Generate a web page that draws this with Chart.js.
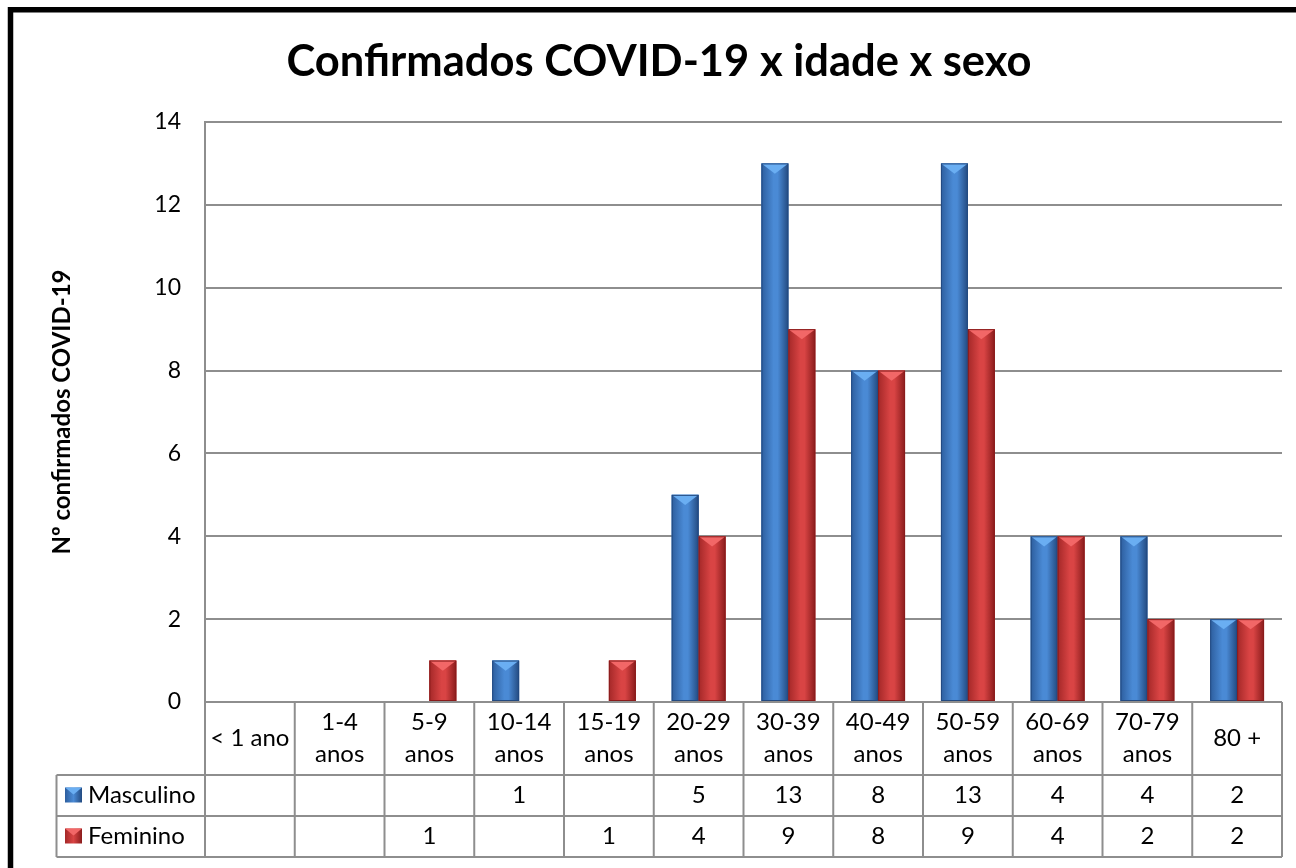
<!DOCTYPE html>
<html>
<head>
<meta charset="utf-8">
<title>Confirmados COVID-19 x idade x sexo</title>
<script src="https://cdn.jsdelivr.net/npm/chart.js@4.4.0/dist/chart.umd.min.js"></script>
<style>
  html, body { margin: 0; padding: 0; background: #fff; }
  #wrap { width: 1296px; height: 868px; position: relative; }
</style>
</head>
<body>
<div id="wrap"><canvas id="covidChart" width="1296" height="868"></canvas></div>
<script>
// Chart data
const ageGroups = [
  ['< 1 ano'], ['1-4', 'anos'], ['5-9', 'anos'], ['10-14', 'anos'],
  ['15-19', 'anos'], ['20-29', 'anos'], ['30-39', 'anos'], ['40-49', 'anos'],
  ['50-59', 'anos'], ['60-69', 'anos'], ['70-79', 'anos'], ['80 +']
];
const masculino = [null, null, null, 1, null, 5, 13, 8, 13, 4, 4, 2];
const feminino  = [null, null, 1, null, 1, 4, 9, 8, 9, 4, 2, 2];
const seriesNames = ['Masculino', 'Feminino'];
const yTicks = [0, 2, 4, 6, 8, 10, 12, 14];

const chartTitle = 'Confirmados COVID-19 x idade x sexo';
const yTitle = 'Nº confirmados COVID-19';

const FONT = 'Lato, "Open Sans", sans-serif';
const GRID = '#8e8e8e';

// bar shading: [left edge, middle, right edge, top triangle]
const shades = [
  ['#2d5e9e', '#4a8ad5', '#234a80', '#6aaef2'],
  ['#a42828', '#d94444', '#8a1c1c', '#f26767']
];

// white background, black frame and the big title
const frameAndTitle = {
  id: 'frameAndTitle',
  beforeDraw(chart) {
    const ctx = chart.ctx;
    ctx.save();
    ctx.fillStyle = '#fff';
    ctx.fillRect(0, 0, chart.width, chart.height);
    ctx.strokeStyle = '#000';
    ctx.lineWidth = 5.5;
    ctx.beginPath();
    ctx.moveTo(10.5, chart.height);
    ctx.lineTo(10.5, 9.8);
    ctx.lineTo(chart.width, 9.8);
    ctx.stroke();
    ctx.fillStyle = '#000';
    ctx.font = 'bold 43.5px ' + FONT;
    ctx.textAlign = 'center';
    ctx.textBaseline = 'alphabetic';
    ctx.fillText(chartTitle, 659, 76);
    ctx.restore();
  }
};

// Excel-like bevel on each bar, using the bar elements' geometry
const bevelBars = {
  id: 'bevelBars',
  afterDatasetsDraw(chart) {
    const ctx = chart.ctx;
    chart.data.datasets.forEach((ds, di) => {
      const meta = chart.getDatasetMeta(di);
      const c = shades[di];
      meta.data.forEach((bar, i) => {
        if (ds.data[i] === null) return;
        const p = bar.getProps(['x', 'y', 'base', 'width'], true);
        const left = p.x - p.width / 2;
        const right = p.x + p.width / 2;
        const g = ctx.createLinearGradient(left, 0, right, 0);
        g.addColorStop(0, c[0]);
        g.addColorStop(0.45, c[1]);
        g.addColorStop(0.6, c[1]);
        g.addColorStop(1, c[2]);
        ctx.save();
        ctx.fillStyle = g;
        ctx.fillRect(left, p.y, p.width, p.base - p.y);
        const h = Math.min(p.width * 0.38, p.base - p.y);
        ctx.fillStyle = c[3];
        ctx.beginPath();
        ctx.moveTo(left, p.y);
        ctx.lineTo(right, p.y);
        ctx.lineTo(p.x, p.y + h);
        ctx.closePath();
        ctx.fill();
        ctx.strokeStyle = c[2];
        ctx.lineWidth = 1;
        ctx.strokeRect(left + 0.5, p.y + 0.5, p.width - 1, p.base - p.y - 1);
        ctx.restore();
      });
    });
  }
};

// data table under the plot (category labels + values + legend keys)
const dataTable = {
  id: 'dataTable',
  afterDraw(chart) {
    const ctx = chart.ctx;
    const area = chart.chartArea;
    const xs = chart.scales.x;
    const n = ageGroups.length;
    const colW = (area.right - area.left) / n;
    const top = area.bottom;
    const rows = [top + 73, top + 114, top + 155];
    const legendLeft = 56.5;
    const rowsData = [masculino, feminino];

    ctx.save();
    ctx.strokeStyle = GRID;
    ctx.lineWidth = 2;
    ctx.beginPath();
    // vertical lines
    for (let i = 0; i <= n; i++) {
      const x = area.left + i * colW;
      ctx.moveTo(x, top);
      ctx.lineTo(x, rows[2]);
    }
    ctx.moveTo(legendLeft, rows[0]);
    ctx.lineTo(legendLeft, rows[2]);
    // horizontal lines
    rows.forEach(y => {
      ctx.moveTo(legendLeft, y);
      ctx.lineTo(area.right, y);
    });
    ctx.stroke();

    ctx.fillStyle = '#000';
    ctx.font = '24px ' + FONT;
    ctx.textAlign = 'center';
    ctx.textBaseline = 'middle';
    ageGroups.forEach((lab, i) => {
      const cx = xs.getPixelForValue(i);
      if (lab.length === 1) {
        ctx.fillText(lab[0], cx, top + 36);
      } else {
        ctx.fillText(lab[0], cx, top + 20);
        ctx.fillText(lab[1], cx, top + 52);
      }
    });

    rowsData.forEach((vals, r) => {
      const cy = (rows[r] + rows[r + 1 < rows.length ? r + 1 : r]) / 2;
      vals.forEach((v, i) => {
        if (v === null) return;
        ctx.fillText(String(v), xs.getPixelForValue(i), cy);
      });
      // legend key
      const c = shades[r];
      const g = ctx.createLinearGradient(65, 0, 82, 0);
      g.addColorStop(0, c[0]);
      g.addColorStop(0.5, c[1]);
      g.addColorStop(1, c[2]);
      ctx.fillStyle = g;
      ctx.fillRect(65, cy - 8, 17, 15);
      ctx.fillStyle = c[3];
      ctx.beginPath();
      ctx.moveTo(65, cy - 8);
      ctx.lineTo(82, cy - 8);
      ctx.lineTo(73.5, cy - 1);
      ctx.closePath();
      ctx.fill();
      ctx.fillStyle = '#000';
      ctx.textAlign = 'left';
      ctx.fillText(seriesNames[r], 88, cy);
      ctx.textAlign = 'center';
    });
    ctx.restore();
  }
};

const ctx = document.getElementById('covidChart').getContext('2d');
new Chart(ctx, {
  type: 'bar',
  data: {
    labels: ageGroups,
    datasets: [{
      label: seriesNames[0],
      data: masculino,
      backgroundColor: shades[0][1],
      categoryPercentage: 0.6,
      barPercentage: 1.0
    }, {
      label: seriesNames[1],
      data: feminino,
      backgroundColor: shades[1][1],
      categoryPercentage: 0.6,
      barPercentage: 1.0
    }]
  },
  options: {
    responsive: false,
    animation: false,
    layout: {
      padding: { left: 48, right: 14, top: 122, bottom: 166 }
    },
    plugins: {
      legend: { display: false },
      title: { display: false },
      tooltip: { enabled: false }
    },
    scales: {
      x: {
        display: false
      },
      y: {
        min: 0,
        max: 14,
        afterFit(scale) { scale.width = 157; },
        afterBuildTicks(scale) { scale.ticks = yTicks.map(v => ({ value: v })); },
        border: { display: true, color: GRID, width: 2 },
        grid: { color: GRID, lineWidth: 2, drawTicks: false },
        ticks: {
          padding: 24,
          color: '#000',
          font: { family: FONT, size: 23 }
        },
        title: {
          display: true,
          text: yTitle,
          color: '#000',
          padding: 0,
          font: { family: FONT, size: 24, weight: 'bold' }
        }
      }
    }
  },
  plugins: [frameAndTitle, bevelBars, dataTable]
});
</script>
</body>
</html>
